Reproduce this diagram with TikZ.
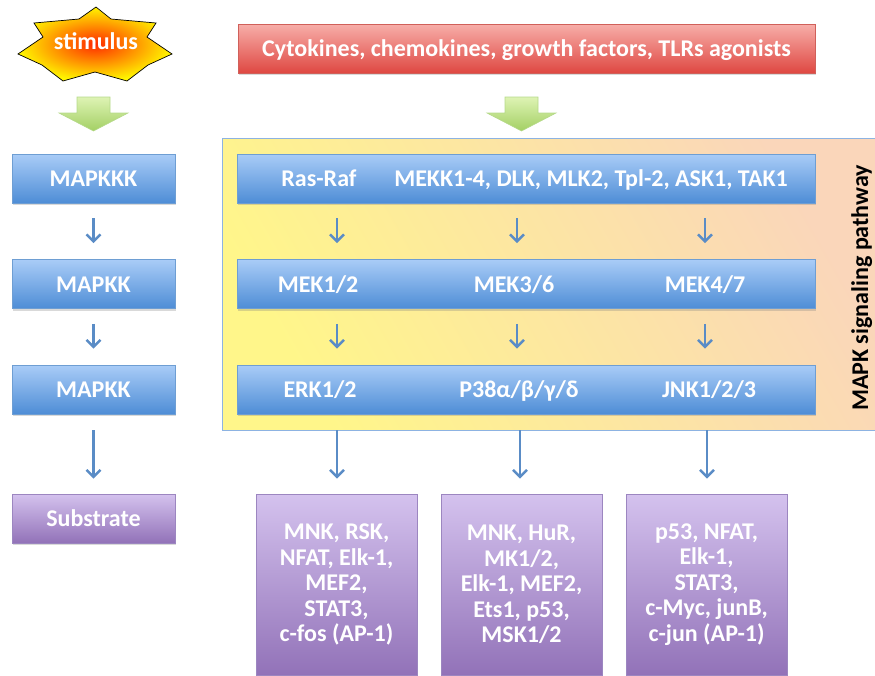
\documentclass[tikz,border=0pt]{standalone}
\usepackage{fontspec}
\setmainfont{Carlito}
\usetikzlibrary{arrows.meta,shadows}

\definecolor{bluetop}{HTML}{A9CCF7}
\definecolor{bluebot}{HTML}{4E8DD6}
\definecolor{blueedge}{HTML}{6E9ED3}
\definecolor{purtop}{HTML}{D4C2EE}
\definecolor{purbot}{HTML}{9272B8}
\definecolor{puredge}{HTML}{9C86C0}
\definecolor{redtop}{HTML}{F7AEA9}
\definecolor{redbot}{HTML}{DF4842}
\definecolor{rededge}{HTML}{D0605A}
\definecolor{arrowblue}{HTML}{5A8CC6}
\definecolor{greentop}{HTML}{DEF3B4}
\definecolor{greenbot}{HTML}{A3D064}
\definecolor{greenedge}{HTML}{B5D98A}
\definecolor{yellowfill}{HTML}{FFF68A}
\definecolor{peachfill}{HTML}{FAD6BA}
\definecolor{frameblue}{HTML}{8DB3E2}
\definecolor{starred}{HTML}{FF2A00}
\definecolor{staryellow}{HTML}{FFF500}

\tikzset{
  boxbase/.style={rectangle, inner sep=0pt, line width=0.8pt,
    drop shadow={opacity=0.3, shadow xshift=1pt, shadow yshift=-2pt}},
  bluebox/.style={boxbase, top color=bluetop, bottom color=bluebot, draw=blueedge},
  purplebox/.style={boxbase, top color=purtop, bottom color=purbot, draw=puredge},
  redbox/.style={boxbase, top color=redtop, bottom color=redbot, draw=rededge},
  lbl/.style={text=white, font=\bfseries\fontsize{24}{25.5}\selectfont,
    inner sep=0pt, text height=16pt, text depth=0pt, align=center},
  multilbl/.style={text=white, font=\bfseries\fontsize{24}{25.5}\selectfont,
    inner sep=0pt, align=center},
  flow/.style={draw=arrowblue, line width=2.4pt,
    -{Straight Barb[length=7pt, width=14pt, line width=2.4pt]}},
  bigarrow/.style={top color=greentop, bottom color=greenbot, draw=greenedge, line width=0.6pt},
}

\begin{document}
\begin{tikzpicture}[x=1pt, y=-1pt]
\useasboundingbox (0,0) rectangle (875,675);

% ---------- stimulus star ----------
\shade[shading=radial, inner color=starred, outer color=staryellow, draw=black, line width=0.7pt]
  (96,7) -- (111,19) -- (156,23) -- (147,37) -- (172,54) -- (148,65) -- (127,81)
  -- (95,72) -- (63,81) -- (42,65) -- (18,54) -- (43,37) -- (34,23) -- (79,19) -- cycle;
\node[lbl] (stim) at (96,41) {stimulus};

% ---------- top stimulus box ----------
\node[redbox, minimum width=577pt, minimum height=49pt] (stimbox) at (526.5,48.5) {};
\node[lbl] (stimtext) at (stimbox.center) {Cytokines, chemokines, growth factors, TLRs agonists};

% ---------- wide green arrows ----------
\shade[bigarrow] (77,97) -- (110,97) -- (110,113) -- (128,113) -- (93.5,131) -- (59,113) -- (77,113) -- cycle;
\shade[bigarrow] (505,97) -- (538,97) -- (538,113) -- (556,113) -- (521.5,131) -- (487,113) -- (505,113) -- cycle;

% ---------- pathway frame ----------
\node[rectangle, minimum width=656pt, minimum height=292pt, inner sep=0pt,
      top color=peachfill, bottom color=yellowfill, shading angle=-60,
      draw=frameblue, line width=0.8pt] (frame) at (550,284) {};
\node[rotate=90, font=\bfseries\fontsize{24}{26}\selectfont, inner sep=0pt,
      text height=16pt, text depth=4pt] (mapk) at (862,288) {MAPK signaling pathway};

% ---------- generic cascade (left column) ----------
\node[bluebox, minimum width=163pt, minimum height=49pt] (mapkkk) at (93.5,178.5) {};
\node[lbl] at (mapkkk.center) {MAPKKK};
\node[bluebox, minimum width=163pt, minimum height=49pt] (mapkk1) at (93.5,284) {};
\node[lbl] at (mapkk1.center) {MAPKK};
\node[bluebox, minimum width=163pt, minimum height=49pt] (mapkk2) at (93.5,389.5) {};
\node[lbl] at (mapkk2.center) {MAPKK};
\node[purplebox, minimum width=163pt, minimum height=49pt] (substrate) at (93.5,518.5) {};
\node[lbl] at (substrate.center) {Substrate};

\draw[flow, shorten <=15pt, shorten >=16pt] (mapkkk.south) -- (mapkk1.north);
\draw[flow, shorten <=15pt, shorten >=16pt] (mapkk1.south) -- (mapkk2.north);
\draw[flow, shorten <=16pt, shorten >=15pt] (mapkk2.south) -- (substrate.north);

% ---------- MAPK rows ----------
\node[bluebox, minimum width=578pt, minimum height=49pt] (row1) at (526,178.5) {};
\node[bluebox, minimum width=578pt, minimum height=49pt] (row2) at (526,284) {};
\node[bluebox, minimum width=578pt, minimum height=49pt] (row3) at (526,389.5) {};

\node[lbl] (rasraf) at (319,178.5) {Ras-Raf};
\node[lbl] (mekk) at (591,178.5) {MEKK1-4, DLK, MLK2, Tpl-2, ASK1, TAK1};
\node[lbl] (mek12) at (318,284) {MEK1/2};
\node[lbl] (mek36) at (514,284) {MEK3/6};
\node[lbl] (mek47) at (705,284) {MEK4/7};
\node[lbl] (erk) at (320,389.5) {ERK1/2};
\node[lbl] (p38) at (519,389.5) {P38α/β/γ/δ};
\node[lbl] (jnk) at (709,389.5) {JNK1/2/3};

% ---------- substrate boxes ----------
\node[purplebox, minimum width=161pt, minimum height=181pt] (subA) at (336.5,584.5) {};
\node[purplebox, minimum width=161pt, minimum height=181pt] (subB) at (521.5,584.5) {};
\node[purplebox, minimum width=161pt, minimum height=181pt] (subC) at (706.5,584.5) {};
\node[multilbl] at (subA.center) {MNK, RSK,\\NFAT, Elk-1,\\MEF2,\\STAT3,\\c-fos (AP-1)};
\node[multilbl] at (subB.center) {MNK, HuR,\\MK1/2,\\Elk-1, MEF2,\\Ets1, p53,\\MSK1/2};
\node[multilbl] at (subC.center) {p53, NFAT,\\Elk-1,\\STAT3,\\c-Myc, junB,\\c-jun (AP-1)};

% ---------- cascade arrows ----------
\coordinate (colA) at (337,0);
\coordinate (colB) at (517,0);
\coordinate (colC) at (705,0);
\coordinate (colD) at (520,0);
\coordinate (colE) at (707,0);

\draw[flow, shorten <=15pt, shorten >=16pt] (row1.south -| colA) -- (row2.north -| colA);
\draw[flow, shorten <=15pt, shorten >=16pt] (row1.south -| colB) -- (row2.north -| colB);
\draw[flow, shorten <=15pt, shorten >=16pt] (row1.south -| colC) -- (row2.north -| colC);
\draw[flow, shorten <=15pt, shorten >=16pt] (row2.south -| colA) -- (row3.north -| colA);
\draw[flow, shorten <=15pt, shorten >=16pt] (row2.south -| colB) -- (row3.north -| colB);
\draw[flow, shorten <=15pt, shorten >=16pt] (row2.south -| colC) -- (row3.north -| colC);
\draw[flow, shorten <=16pt, shorten >=15pt] (row3.south -| colA) -- (subA.north -| colA);
\draw[flow, shorten <=16pt, shorten >=15pt] (row3.south -| colD) -- (subB.north -| colD);
\draw[flow, shorten <=16pt, shorten >=15pt] (row3.south -| colE) -- (subC.north -| colE);
\end{tikzpicture}
\end{document}
